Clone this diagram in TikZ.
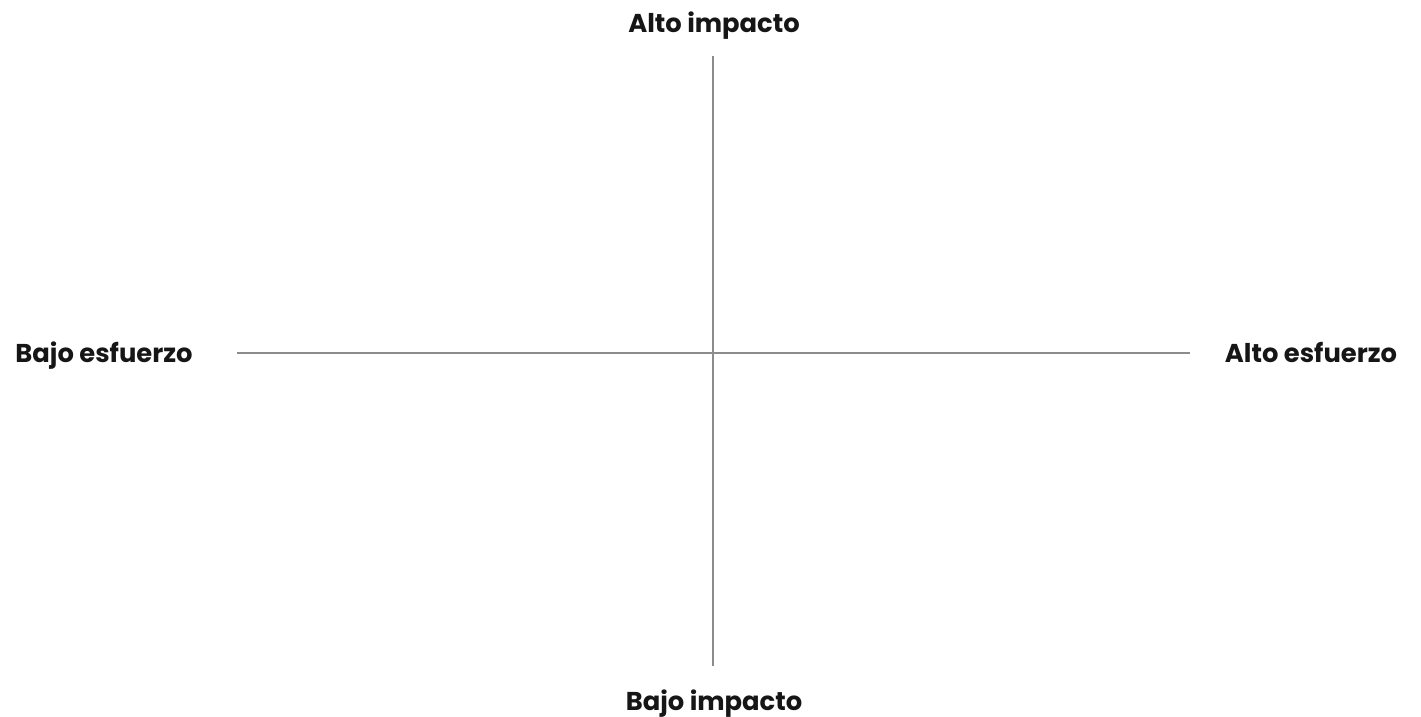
\documentclass[tikz,border=0pt]{standalone}
\usepackage{fontspec}
\setmainfont{Poppins}
\definecolor{axisgray}{HTML}{8C8C8C}
\definecolor{labelcol}{HTML}{161616}
\begin{document}
\begin{tikzpicture}[x=0.5pt,y=-0.5pt,
  axislabel/.style={font=\bfseries\fontsize{12.9}{14}\selectfont, text=labelcol, inner sep=0pt, anchor=base},
  axisline/.style={draw=axisgray, line width=0.9pt}]
\useasboundingbox[fill=white] (0,0) rectangle (1421,717);
\coordinate (top) at (713,56);
\coordinate (bottom) at (713,666);
\coordinate (left) at (237,353);
\coordinate (right) at (1190,353);
\draw[axisline] (top) -- (bottom);
\draw[axisline] (left) -- (right);
\node[axislabel] (altoimp) at (714,33) {Alto impacto};
\node[axislabel] (bajoimp) at (714,710) {Bajo impacto};
\node[axislabel] (bajoesf) at (104,363) {Bajo esfuerzo};
\node[axislabel] (altoesf) at (1311,363) {Alto esfuerzo};
\end{tikzpicture}
\end{document}
